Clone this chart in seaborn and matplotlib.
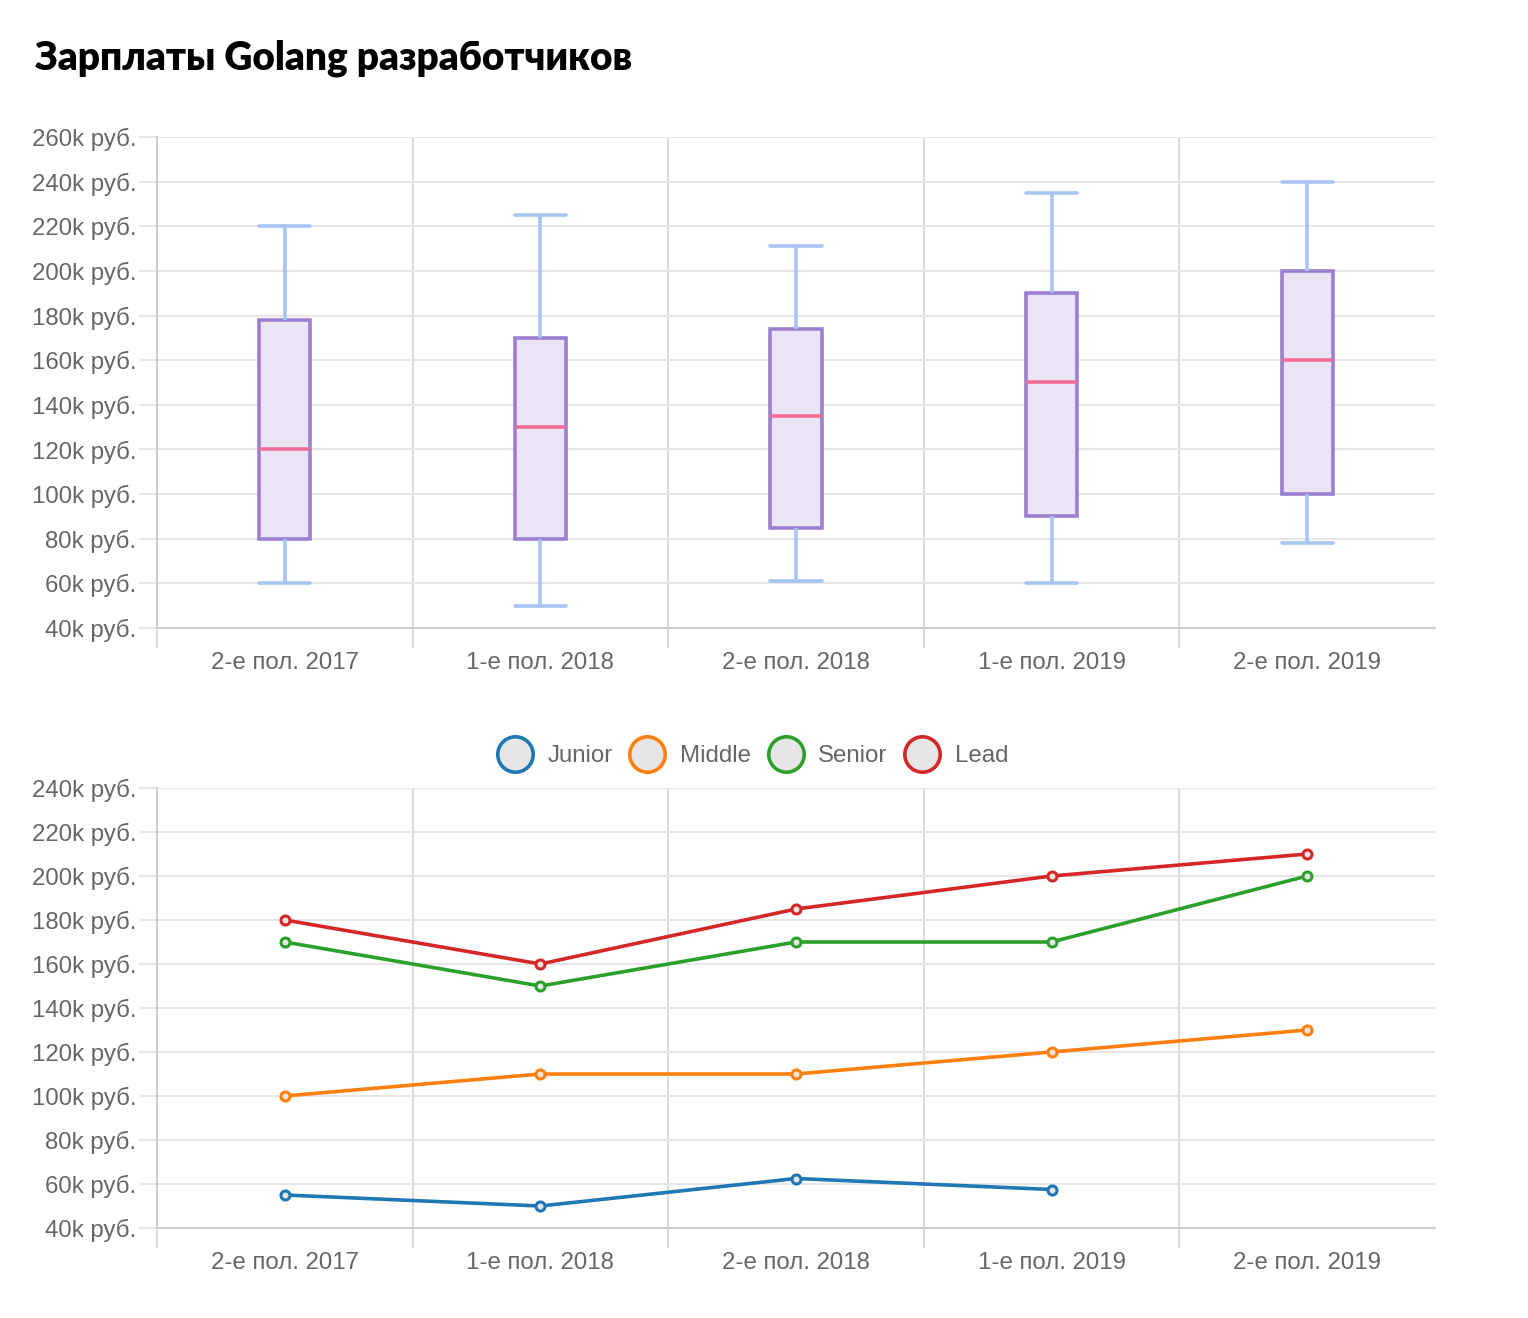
import numpy as np
import pandas as pd
import matplotlib
matplotlib.use("Agg")
import matplotlib.pyplot as plt
from matplotlib.lines import Line2D
from matplotlib.ticker import FuncFormatter
import seaborn as sns

# ---- data ----
periods = ['2-е пол. 2017', '1-е пол. 2018', '2-е пол. 2018', '1-е пол. 2019', '2-е пол. 2019']
box_min = [60000, 50000, 61000, 60000, 78000]
box_q1 = [80000, 80000, 85000, 90000, 100000]
box_median = [120000, 130000, 135000, 150000, 160000]
box_q3 = [178000, 170000, 174000, 190000, 200000]
box_max = [220000, 225000, 211000, 235000, 240000]

levels = ['Junior', 'Middle', 'Senior', 'Lead']
junior = [55000, 50000, 62500, 57500, np.nan]
middle = [100000, 110000, 110000, 120000, 130000]
senior = [170000, 150000, 170000, 170000, 200000]
lead = [180000, 160000, 185000, 200000, 210000]
level_colors = ['#1f77b4', '#ff7f0e', '#2ca02c', '#d62728']

top_ticks = list(range(40000, 260001, 20000))
bottom_ticks = list(range(40000, 240001, 20000))

title = 'Зарплаты Golang разработчиков'

# ---- styling ----
sns.set_theme(style='white')
plt.rcParams['font.family'] = ['Liberation Sans', 'DejaVu Sans']

TEXT = '#666666'
GRID = '#e6e6e6'
VGRID = '#dadada'
AXIS = '#cccccc'
FS = 17.3

fig = plt.figure(figsize=(15.28, 13.18), dpi=100)
ax1 = fig.add_axes([157 / 1528, 1 - 628 / 1318, (1435 - 157) / 1528, (628 - 137) / 1318])
ax2 = fig.add_axes([157 / 1528, 1 - 1228 / 1318, (1435 - 157) / 1528, (1228 - 788) / 1318])

# box plot: five summary values per period give exact quartiles with linear percentiles
rows = []
for i, p in enumerate(periods):
    for v in (box_min[i], box_q1[i], box_median[i], box_q3[i], box_max[i]):
        rows.append({'period': p, 'value': v})
box_df = pd.DataFrame(rows)

sns.boxplot(data=box_df, x='period', y='value', order=periods, ax=ax1,
            width=0.2, whis=np.inf, saturation=1, color='#ebe4f4',
            linecolor='#9b7fd0', capwidths=0.2,
            boxprops={'linewidth': 2.6, 'edgecolor': '#9b7fd0', 'facecolor': '#ebe4f4'},
            whiskerprops={'color': '#a7c4f2', 'linewidth': 2.6},
            capprops={'color': '#a7c4f2', 'linewidth': 2.6},
            medianprops={'color': '#f06c96', 'linewidth': 2.6},
            showfliers=False)

# line plot
line_rows = []
for lvl, vals in zip(levels, [junior, middle, senior, lead]):
    for i, v in enumerate(vals):
        line_rows.append({'idx': i, 'value': v, 'level': lvl})
line_df = pd.DataFrame(line_rows)

sns.lineplot(data=line_df, x='idx', y='value', hue='level', hue_order=levels,
             palette=level_colors, ax=ax2, linewidth=2.6, marker='o',
             markersize=6.5, markerfacecolor='#e6e6e6', markeredgewidth=2.2,
             legend=False)
for ln in ax2.lines:
    ln.set_markeredgecolor(ln.get_color())

def fmt(v, _):
    return f"{int(round(v / 1000))}k руб."

for ax, yt in ((ax1, top_ticks), (ax2, bottom_ticks)):
    ax.set_xlim(-0.5, 4.5)
    ax.set_ylim(yt[0], yt[-1])
    ax.set_yticks(yt)
    ax.yaxis.set_major_formatter(FuncFormatter(fmt))
    ax.set_xticks(range(len(periods)))
    ax.set_xticklabels(periods)
    ax.set_xticks([-0.5, 0.5, 1.5, 2.5, 3.5], minor=True)
    ax.set_xlabel('')
    ax.set_ylabel('')
    ax.grid(False)
    ax.grid(which='major', axis='y', color=GRID, linewidth=1.4)
    ax.grid(which='minor', axis='x', color=VGRID, linewidth=1.4)
    ax.set_axisbelow(True)
    ax.tick_params(axis='x', which='major', bottom=True, length=0, pad=17.5,
                   labelsize=FS, labelcolor=TEXT)
    ax.tick_params(axis='x', which='minor', bottom=True, length=14.5, width=1.4,
                   color=VGRID, direction='out')
    ax.tick_params(axis='y', which='major', left=True, length=13, width=1.4, color=GRID,
                   pad=2, labelsize=FS, labelcolor=TEXT, direction='out')
    ax.tick_params(axis='y', which='minor', length=0)
    for s in ('top', 'right'):
        ax.spines[s].set_visible(False)
    for s in ('left', 'bottom'):
        ax.spines[s].set_color(AXIS)
        ax.spines[s].set_linewidth(1.4)

# legend
handles = [Line2D([], [], linestyle='none', marker='o', markersize=25.5,
                  markerfacecolor='#e6e6e6', markeredgecolor=c, markeredgewidth=2.6)
           for c in level_colors]
fig.legend(handles, levels, loc='center', bbox_to_anchor=(752 / 1528, 1 - 756 / 1318),
           ncol=4, frameon=False, fontsize=FS, labelcolor=TEXT,
           handlelength=1.6, handletextpad=0.55, columnspacing=0.65)

fig.text(35 / 1528, 1 - 58 / 1318, title, family=['Lato', 'DejaVu Sans'],
         fontweight='heavy', fontsize=27.9, color='#000000', va='center', ha='left')

fig.savefig('out.png', dpi=100, facecolor='white')
